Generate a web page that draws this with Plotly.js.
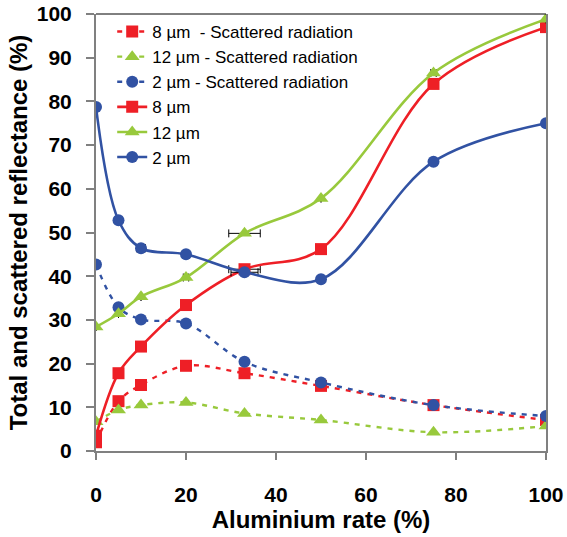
<!DOCTYPE html>
<html>
<head>
<meta charset="utf-8">
<script src="https://cdn.plot.ly/plotly-3.0.1.min.js"></script>
<style>
html,body{margin:0;padding:0;background:#fff;}
#chart{width:567px;height:537px;}
</style>
</head>
<body>
<div id="chart"></div>
<script>
var aluminiumRate = [0, 5, 10, 20, 33, 50, 75, 100];

var scattered8 = [2.0, 11.4, 15.1, 19.5, 17.8, 14.9, 10.5, 7.1];
var scattered12 = [6.7, 9.4, 10.5, 11.1, 8.6, 7.1, 4.3, 5.7];
var scattered2 = [42.7, 32.9, 30.1, 29.2, 20.4, 15.7, 10.5, 8.0];
var total8 = [3.5, 17.8, 23.9, 33.4, 41.6, 46.2, 84.0, 97.0];
var total12 = [28.4, 31.4, 35.3, 39.7, 49.8, 57.8, 86.5, 98.8];
var total2 = [78.7, 52.8, 46.4, 45.0, 40.9, 39.3, 66.2, 75.0];

var errX8 = [0, 0, 0, 0, 3.5, 0, 0, 0];
var errX12 = [0, 0, 0, 0.6, 3.5, 0, 0.6, 0];
var errX2 = [0, 0, 1.0, 0, 3.0, 0.6, 0, 0];

var legendNames = ['8 µm  - Scattered radiation', '12 µm - Scattered radiation', '2 µm - Scattered radiation', '8 µm', '12 µm', '2 µm'];
var xTickVals = [0, 20, 40, 60, 80, 100];
var yTickVals = [0, 10, 20, 30, 40, 50, 60, 70, 80, 90, 100];

var RED = '#ee1f26', GREEN = '#98c93c', BLUE = '#3152a3';
var FONT = 'Liberation Sans, Arial, sans-serif';

function tr(y, name, color, dash, symbol, err) {
  var t = {
    x: aluminiumRate, y: y, name: name, type: 'scatter', mode: 'lines+markers',
    line: {color: color, width: dash === 'solid' ? 2.6 : 2.4, dash: dash, shape: 'spline', smoothing: 1},
    marker: {color: color, symbol: symbol, size: symbol === 'triangle-up' ? 13 : 12}
  };
  if (err) {
    t.error_x = {type: 'data', array: err, visible: true, color: '#000', thickness: 1, width: 4};
  }
  return t;
}

var dashStyle = '5px,6px';
var data = [
  tr(scattered8, legendNames[0], RED, dashStyle, 'square'),
  tr(scattered12, legendNames[1], GREEN, dashStyle, 'triangle-up'),
  tr(scattered2, legendNames[2], BLUE, dashStyle, 'circle'),
  tr(total8, legendNames[3], RED, 'solid', 'square', errX8),
  tr(total12, legendNames[4], GREEN, 'solid', 'triangle-up', errX12),
  tr(total2, legendNames[5], BLUE, 'solid', 'circle', errX2)
];

var layout = {
  width: 567, height: 537,
  margin: {l: 96, r: 21, t: 14, b: 86},
  paper_bgcolor: '#fff', plot_bgcolor: '#fff',
  font: {family: FONT, color: '#000'},
  showlegend: true,
  legend: {
    x: 0.036, y: 1.0, xanchor: 'left', yanchor: 'top',
    bgcolor: 'rgba(0,0,0,0)', font: {size: 17, color: '#000', family: FONT},
    tracegroupgap: 0, itemwidth: 30
  },
  xaxis: {
    range: [0, 100], tickvals: xTickVals, ticks: 'outside', ticklen: 7, tickwidth: 2, tickcolor: '#808080',
    showline: true, linecolor: '#808080', linewidth: 2, showgrid: false, zeroline: false,
    tickfont: {size: 21, family: FONT, weight: 'bold', color: '#000'},
    ticklabelstandoff: 17,
    title: {text: '<b>Aluminium rate (%)</b>', font: {size: 24, color: '#000', family: FONT}, standoff: 6}
  },
  yaxis: {
    range: [0, 100], tickvals: yTickVals, ticks: 'outside', ticklen: 8, tickwidth: 2, tickcolor: '#808080',
    showline: true, linecolor: '#808080', linewidth: 2, mirror: true, showgrid: false, zeroline: false,
    tickfont: {size: 21, family: FONT, weight: 'bold', color: '#000'},
    ticklabelstandoff: 10,
    title: {text: '<b>Total and scattered reflectance (%)</b>', font: {size: 24, color: '#000', family: FONT}, standoff: 2}
  },
  shapes: [
    {type: 'line', xref: 'paper', yref: 'paper', x0: 0, x1: 1, y0: 1, y1: 1, line: {color: '#000', width: 1}}
  ]
};

Plotly.newPlot('chart', data, layout, {displayModeBar: false, staticPlot: true});
</script>
</body>
</html>
